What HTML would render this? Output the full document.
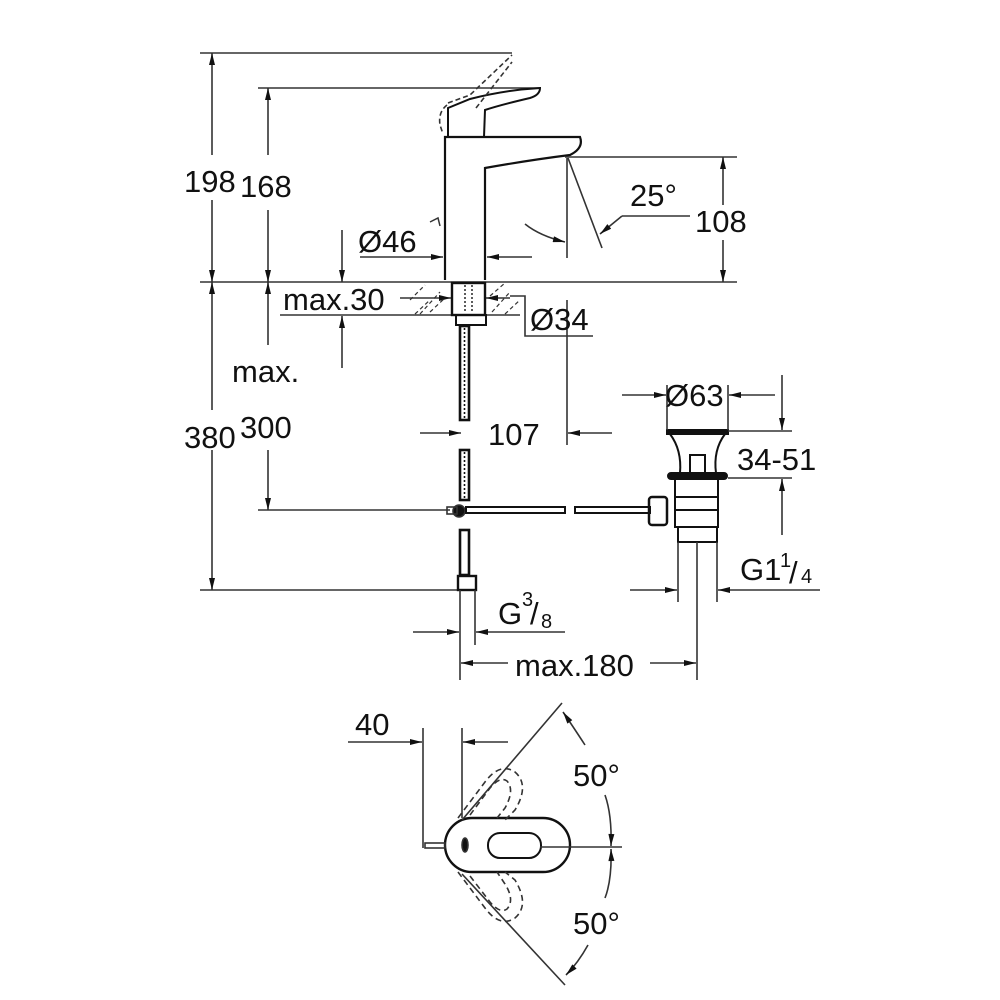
<!DOCTYPE html>
<html><head><style>
html,body{margin:0;padding:0;background:#fff;}
svg{display:block;}
text{font-family:"Liberation Sans",sans-serif;fill:#111;}
</style></head><body>
<svg width="1000" height="1000" viewBox="0 0 1000 1000" xmlns="http://www.w3.org/2000/svg">
<defs>
<marker id="a" viewBox="0 0 12 6" refX="12" refY="3" markerWidth="13" markerHeight="6" markerUnits="userSpaceOnUse" orient="auto"><path d="M0,0 L12,3 L0,6 Z" fill="#111"/></marker>
</defs>
<g stroke="#333" stroke-width="1.6" fill="none">
<line x1="200" y1="53" x2="512" y2="53"/>
<line x1="258" y1="88" x2="540" y2="88"/>
<line x1="200" y1="282" x2="737" y2="282" stroke="#666" stroke-width="2"/>
<line x1="258" y1="510" x2="450" y2="510"/>
<line x1="200" y1="590" x2="470" y2="590"/>
<line x1="212" y1="155" x2="212" y2="53" marker-end="url(#a)"/>
<line x1="212" y1="200" x2="212" y2="282" marker-end="url(#a)"/>
<line x1="212" y1="410" x2="212" y2="282" marker-end="url(#a)"/>
<line x1="212" y1="450" x2="212" y2="590" marker-end="url(#a)"/>
<line x1="268" y1="155" x2="268" y2="88" marker-end="url(#a)"/>
<line x1="268" y1="210" x2="268" y2="282" marker-end="url(#a)"/>
<line x1="268" y1="345" x2="268" y2="282" marker-end="url(#a)"/>
<line x1="268" y1="450" x2="268" y2="510" marker-end="url(#a)"/>
<path d="M445,280 L445,137 L580,137 Q584,148 570,155 Q530,160 485,168 L485,280" stroke="#111" stroke-width="2.2"/>
<path d="M448,137 L448,108 L470,99 Q505,90 540,88 Q540,95 530,98 Q500,105 485,110 L484,137" stroke="#111" stroke-width="2"/>
<path d="M447,105 Q438,112 440,125 L443,134 M448,103 L470,95 L512,55 M476,108 L512,62" stroke-dasharray="5,3"/>
<path d="M430,222 L438,218 L440,226" stroke-width="1.5"/>
<line x1="565" y1="157" x2="737" y2="157"/>
<line x1="567" y1="158" x2="567" y2="258"/>
<line x1="567" y1="300" x2="567" y2="445"/>
<line x1="568" y1="158" x2="602" y2="248"/>
<path d="M690,216 L622,216" /><line x1="622" y1="216" x2="600" y2="234" marker-end="url(#a)"/>
<path d="M525,224 Q540,236 565,242" marker-end="url(#a)"/>
<line x1="723" y1="205" x2="723" y2="157" marker-end="url(#a)"/>
<line x1="723" y1="240" x2="723" y2="282" marker-end="url(#a)"/>
<line x1="360" y1="257" x2="443" y2="257" marker-end="url(#a)"/>
<line x1="532" y1="257" x2="487" y2="257" marker-end="url(#a)"/>
<line x1="342" y1="230" x2="342" y2="282" marker-end="url(#a)"/>
<line x1="342" y1="368" x2="342" y2="316" marker-end="url(#a)"/>
<line x1="280" y1="315" x2="520" y2="315"/>
<line x1="400" y1="298" x2="451" y2="298" marker-end="url(#a)"/>
<line x1="510" y1="298" x2="486" y2="298" marker-end="url(#a)"/>
<path d="M510,296 L525,296 L525,336 L593,336"/>
<g stroke-width="1.2" stroke-dasharray="4,3">
<path d="M410,300 L425,285 M420,314 L440,292 M430,312 L445,298 M490,296 L505,283 M492,312 L510,292 M505,314 L520,300 M415,314 L430,300"/>
</g>
<rect x="452" y="283" width="33" height="32" stroke="#111" stroke-width="2.4"/>
<rect x="456" y="315" width="30" height="10" stroke="#111" stroke-width="2"/>
<line x1="465" y1="285" x2="465" y2="313" stroke-dasharray="2,2"/>
<line x1="472" y1="285" x2="472" y2="313" stroke-dasharray="2,2"/>
<g stroke="#111" stroke-width="2.6">
<rect x="460" y="326" width="9" height="94"/>
<rect x="460" y="450" width="9" height="50"/>
<rect x="460" y="530" width="9" height="45"/>
</g>
<line x1="464.5" y1="328" x2="464.5" y2="418" stroke-dasharray="2,2" stroke="#111"/>
<line x1="464.5" y1="452" x2="464.5" y2="498" stroke-dasharray="2,2" stroke="#111"/>
<rect x="458" y="576" width="18" height="14" stroke="#111" stroke-width="2.4"/>
<line x1="460" y1="590" x2="460" y2="680"/>
<line x1="475" y1="590" x2="475" y2="645"/>
<line x1="420" y1="433" x2="461" y2="433" marker-end="url(#a)"/>
<line x1="612" y1="433" x2="568" y2="433" marker-end="url(#a)"/>
<circle cx="459" cy="511" r="6" fill="#111"/>
<rect x="447" y="507" width="10" height="7"/>
<rect x="466" y="507" width="99" height="6" stroke="#111" stroke-width="2"/>
<rect x="575" y="507" width="75" height="6" stroke="#111" stroke-width="2"/>
<rect x="649" y="497" width="18" height="28" rx="3" stroke="#111" stroke-width="2.5"/>
<g stroke="#111" stroke-width="2">
<rect x="667" y="430" width="61" height="4" fill="#111"/>
<path d="M670,434 Q682,450 680,473 M725,434 Q713,450 716,473"/>
<rect x="690" y="455" width="15" height="18"/>
<rect x="668" y="473" width="59" height="6" rx="3" fill="#111"/>
<path d="M675,479 L675,527 L718,527 L718,479"/>
<rect x="678" y="527" width="39" height="15"/>
<path d="M675,497 L718,497 M675,510 L718,510"/>
</g>
<line x1="667" y1="385" x2="667" y2="430"/>
<line x1="728" y1="385" x2="728" y2="430"/>
<line x1="622" y1="395" x2="666" y2="395" marker-end="url(#a)"/>
<line x1="775" y1="395" x2="729" y2="395" marker-end="url(#a)"/>
<line x1="728" y1="431" x2="792" y2="431"/>
<line x1="728" y1="478" x2="792" y2="478"/>
<line x1="782" y1="375" x2="782" y2="430" marker-end="url(#a)"/>
<line x1="782" y1="535" x2="782" y2="479" marker-end="url(#a)"/>
<line x1="678" y1="542" x2="678" y2="602"/>
<line x1="717" y1="542" x2="717" y2="602"/>
<line x1="697" y1="542" x2="697" y2="680"/>
<line x1="630" y1="590" x2="677" y2="590" marker-end="url(#a)"/>
<line x1="820" y1="590" x2="718" y2="590" marker-end="url(#a)"/>
<line x1="413" y1="632" x2="459" y2="632" marker-end="url(#a)"/>
<line x1="565" y1="632" x2="476" y2="632" marker-end="url(#a)"/>
<line x1="508" y1="663" x2="461" y2="663" marker-end="url(#a)"/>
<line x1="650" y1="663" x2="696" y2="663" marker-end="url(#a)"/>
<line x1="423" y1="728" x2="423" y2="848"/>
<line x1="462" y1="728" x2="462" y2="818"/>
<line x1="348" y1="742" x2="422" y2="742" marker-end="url(#a)"/>
<line x1="508" y1="742" x2="463" y2="742" marker-end="url(#a)"/>
<rect x="445" y="818" width="125" height="54" rx="27" stroke="#111" stroke-width="2.4"/>
<rect x="488" y="833" width="53" height="25" rx="12" stroke="#111" stroke-width="2"/>
<rect x="425" y="843" width="20" height="5"/>
<ellipse cx="465" cy="845" rx="3" ry="7" fill="#111"/>
<line x1="540" y1="847" x2="622" y2="847"/>
<g stroke-dasharray="6,4">
<path d="M458,818 L485,782 Q500,762 515,772 Q530,785 515,810 L505,820"/>
<path d="M470,815 L490,788 Q500,776 507,781 Q515,790 505,808 L497,818"/>
<path d="M458,872 L485,908 Q500,928 515,918 Q530,905 515,880 L505,872"/>
<path d="M470,876 L490,902 Q500,914 507,909 Q515,900 505,884 L497,872"/>
</g>
<line x1="462" y1="820" x2="562" y2="703"/>
<line x1="462" y1="874" x2="565" y2="985"/>
<path d="M585,745 Q572,725 563,712" marker-end="url(#a)"/>
<path d="M605,795 Q612,815 611,846" marker-end="url(#a)"/>
<path d="M605,898 Q612,880 611,849" marker-end="url(#a)"/>
<path d="M588,945 Q578,963 566,975" marker-end="url(#a)"/>
</g>
<g font-size="31">
<text x="184" y="192">198</text>
<text x="240" y="197">168</text>
<text x="232" y="382">max.</text>
<text x="184" y="448">380</text>
<text x="240" y="438">300</text>
<text x="358" y="252">Ø46</text>
<text x="283" y="310">max.30</text>
<text x="530" y="330">Ø34</text>
<text x="630" y="206">25°</text>
<text x="695" y="232">108</text>
<text x="488" y="445">107</text>
<text x="665" y="406">Ø63</text>
<text x="737" y="470">34-51</text>
<text x="740" y="580">G1</text>
<text x="780" y="567" font-size="20">1</text>
<text x="789" y="583">/</text>
<text x="801" y="583" font-size="20">4</text>
<text x="498" y="624">G</text>
<text x="522" y="606" font-size="20">3</text>
<text x="530" y="624">/</text>
<text x="541" y="628" font-size="20">8</text>
<text x="515" y="676">max.180</text>
<text x="355" y="735">40</text>
<text x="573" y="786">50°</text>
<text x="573" y="934">50°</text>
</g>
</svg>
</body></html>
